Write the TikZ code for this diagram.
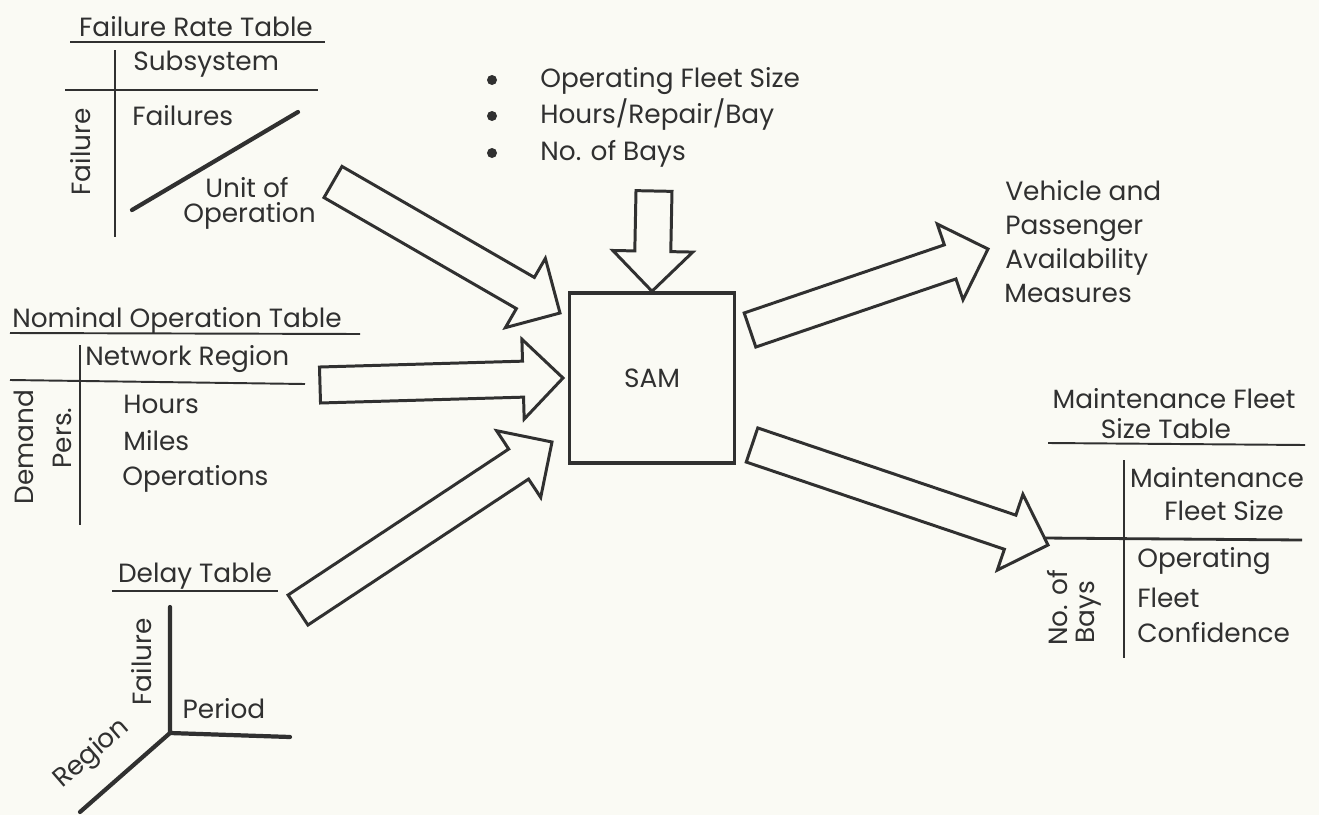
\documentclass[tikz,border=0pt]{standalone}
\usepackage{fontspec}
\setmainfont{Poppins}
\usepackage{tikz}
\usetikzlibrary{calc}

\definecolor{paper}{RGB}{250,250,244}
\definecolor{ink}{RGB}{48,48,48}
\newcommand{\lab}{\fontsize{15}{18}\selectfont}

% hollow block arrow from coordinate #1 to coordinate #2
\newcommand{\fatarrow}[2]{%
  \coordinate (#1-#2) at ($(#2)!0.8cm!(#1)$);
  \draw[fat] ($(#1)!0.36cm!90:(#2)$) -- ($(#1-#2)!0.36cm!90:(#2)$)
    -- ($(#1-#2)!0.8cm!90:(#2)$) -- (#2) -- ($(#1-#2)!0.8cm!-90:(#2)$)
    -- ($(#1-#2)!0.36cm!-90:(#2)$) -- ($(#1)!0.36cm!-90:(#2)$) -- cycle;}

\begin{document}
\begin{tikzpicture}[
    x=0.02cm, y=-0.02cm,
    color=ink,
    every node/.style={inner sep=0pt, font=\lab},
    thin rule/.style={line width=1.1pt},
    thick rule/.style={line width=2.4pt, line cap=round},
    fat/.style={draw=ink, line width=1.7pt, line join=miter, fill=paper},
    sam/.style={draw, line width=2pt, minimum width=3.3cm, minimum height=3.4cm},
    dot/.style={circle, fill, minimum size=0.2cm}
]

\fill[paper] (0,0) rectangle (1319,815);

% Failure rate table
\node[anchor=base] (frt) at (196,36) {Failure Rate Table};
\draw[thin rule] (70,42) -- (325,42);
\draw[thin rule] (115,50) -- (115,237);
\draw[thin rule] (65,90) -- (318,90);
\node[anchor=base west] (frtcol) at (133,70) {Subsystem};
\node[anchor=base west] (frtcell) at (132,125) {Failures};
\node[anchor=base west] (frtunit) at (205,197) {Unit of};
\node[anchor=base west] (frtop) at (183,222) {Operation};
\node[rotate=90] (frtrow) at (81,152) {Failure};
\draw[thick rule] (132,210) -- (298,112);

% Nominal operation table
\node[anchor=base west] (not) at (12,327) {Nominal Operation Table};
\draw[thin rule] (10,333) -- (360,334);
\draw[thin rule] (80,345) -- (80,525);
\draw[thin rule] (10,380) -- (305,384);
\node[rotate=90] (notdem) at (24,447) {Demand};
\node[rotate=90] (notpers) at (62,438) {Pers.};
\node[anchor=base west] (notcol) at (85,365) {Network Region};
\node[anchor=base west] (nothrs) at (123,413) {Hours};
\node[anchor=base west] (notmil) at (123,450) {Miles};
\node[anchor=base west] (notops) at (122,485) {Operations};

% Delay table
\node[anchor=base] (dt) at (195,582) {Delay Table};
\draw[thin rule] (112,591) -- (278,591);
\coordinate (dto) at (170,733);
\draw[thick rule] (170,607) -- (dto) -- (290,737);
\draw[thick rule] (dto) -- (80,812);
\node[rotate=90] (dtfail) at (142,662) {Failure};
\node[anchor=base] (dtper) at (224,718) {Period};
\node[rotate=41] (dtreg) at (92,754) {Region};

% SAM
\node[sam] (samb) at (652,378) {SAM};

% Inputs above SAM
\node[dot] (b1) at (492,80) {};
\node[dot] (b2) at (492,116) {};
\node[dot] (b3) at (492,153) {};
\node[anchor=base west] (in1) at (540,87) {Operating Fleet Size};
\node[anchor=base west] (in2) at (540,123) {Hours/Repair/Bay};
\node[anchor=base west] (in3) at (540,160) {No. of Bays};

% Availability output
\node[anchor=base west] (av1) at (1005,200) {Vehicle and};
\node[anchor=base west] (av2) at (1005,234) {Passenger};
\node[anchor=base west] (av3) at (1005,268) {Availability};
\node[anchor=base west] (av4) at (1004,302) {Measures};

% Maintenance fleet size table
\node[anchor=base] (mfs1) at (1174,408) {Maintenance Fleet};
\node[anchor=base] (mfs2) at (1166,438) {Size Table};
\draw[thin rule] (1048,443) -- (1305,445);
\draw[thin rule] (1124,460) -- (1124,658);
\draw[line width=1.6pt] (1043,538) -- (1302,540);
\node[anchor=base] (mfscol1) at (1217,487) {Maintenance};
\node[anchor=base] (mfscol2) at (1224,520) {Fleet Size};
\node[anchor=base west] (mfsop) at (1137,567) {Operating};
\node[anchor=base west] (mfsfl) at (1137,607) {Fleet};
\node[anchor=base west] (mfscf) at (1137,642) {Confidence};
\node[rotate=90] (mfsno) at (1058,608) {No. of};
\node[rotate=90] (mfsbays) at (1089,612) {Bays};

% Block arrows
\coordinate (ta) at (333,182);  \coordinate (ha) at (560,313);
\coordinate (tb) at (320,385);  \coordinate (hb) at (563,378);
\coordinate (tc) at (298,610);  \coordinate (hc) at (552,442);
\coordinate (td) at (750,330);  \coordinate (hd) at (988,249);
\coordinate (te) at (752,445);  \coordinate (he) at (1048,545);
\coordinate (tf) at (654,191);  \coordinate (hf) at (samb.north);
\fatarrow{ta}{ha}
\fatarrow{tb}{hb}
\fatarrow{tc}{hc}
\fatarrow{td}{hd}
\fatarrow{te}{he}
\fatarrow{tf}{hf}

\end{tikzpicture}
\end{document}
